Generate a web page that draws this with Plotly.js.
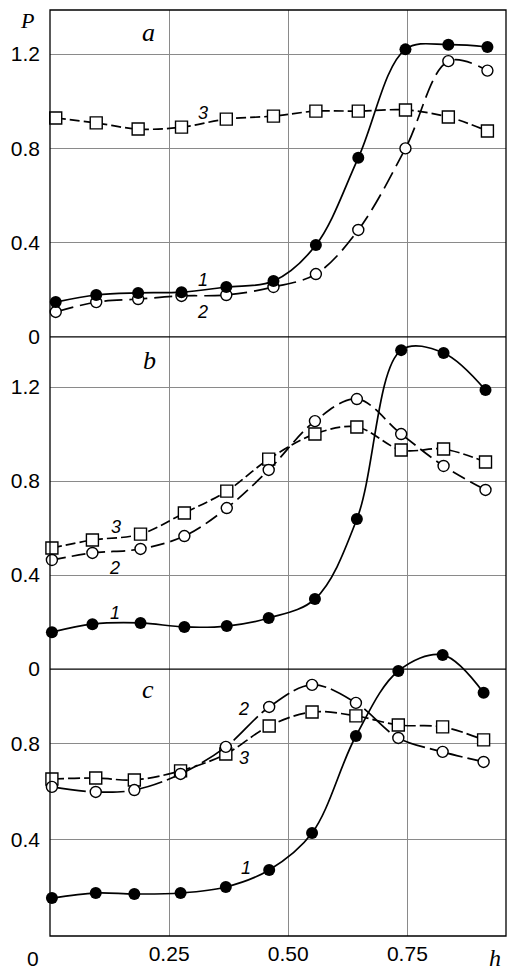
<!DOCTYPE html>
<html>
<head>
<meta charset="utf-8">
<script src="https://cdn.plot.ly/plotly-3.0.1.min.js"></script>
<style>html,body{margin:0;padding:0;background:#fff;}#chart{width:508px;height:972px;}</style>
</head>
<body>
<div id="chart"></div>
<script>
// ---- data ----
var hA = [0.012, 0.097, 0.185, 0.276, 0.370, 0.469, 0.558, 0.647, 0.746, 0.836, 0.918];
var a1 = [0.148, 0.178, 0.187, 0.190, 0.212, 0.237, 0.390, 0.760, 1.220, 1.240, 1.230];
var a2 = [0.106, 0.148, 0.161, 0.174, 0.178, 0.212, 0.267, 0.454, 0.800, 1.170, 1.130];
var a3 = [0.929, 0.908, 0.882, 0.890, 0.924, 0.937, 0.958, 0.958, 0.963, 0.933, 0.874];

var hB = [0.004, 0.089, 0.190, 0.282, 0.371, 0.459, 0.556, 0.644, 0.737, 0.826, 0.914];
var b1 = [0.157, 0.191, 0.196, 0.179, 0.183, 0.217, 0.298, 0.638, 1.357, 1.345, 1.187];
var b2 = [0.464, 0.494, 0.511, 0.566, 0.685, 0.847, 1.055, 1.149, 1.000, 0.864, 0.762];
var b3 = [0.515, 0.549, 0.574, 0.664, 0.757, 0.893, 1.000, 1.030, 0.932, 0.936, 0.881];

var hC = [0.004, 0.096, 0.177, 0.274, 0.369, 0.460, 0.550, 0.642, 0.731, 0.824, 0.910];
var c1 = [0.158, 0.179, 0.175, 0.179, 0.204, 0.275, 0.429, 0.833, 1.104, 1.171, 1.013];
var c2 = [0.621, 0.600, 0.608, 0.675, 0.788, 0.954, 1.046, 0.971, 0.825, 0.767, 0.725];
var c3 = [0.654, 0.658, 0.650, 0.688, 0.758, 0.875, 0.933, 0.917, 0.879, 0.871, 0.817];

var xTickVals = [0.25, 0.5, 0.75];
var xTickText = ['0.25', '0.50', '0.75'];
var yTicksAB = [0, 0.4, 0.8, 1.2];
var yTickTextAB = ['0', '0.4', '0.8', '1.2'];
var yTicksC = [0.4, 0.8];
var yTickTextC = ['0.4', '0.8'];

// ---- styles ----
var BLACK = '#000';
var LW = 1.7;
function filled(x, y, ya) {
  return {x: x, y: y, yaxis: ya, mode: 'lines+markers', cliponaxis: false,
    line: {color: BLACK, width: LW, shape: 'spline', smoothing: 1},
    marker: {symbol: 'circle', size: 12, color: BLACK, line: {color: BLACK, width: 0}}, showlegend: false, hoverinfo: 'skip'};
}
function openCirc(x, y, ya, dash) {
  return {x: x, y: y, yaxis: ya, mode: 'lines+markers', cliponaxis: false,
    line: {color: BLACK, width: LW, shape: 'spline', smoothing: 1, dash: dash},
    marker: {symbol: 'circle', size: 11, color: '#fff', line: {color: BLACK, width: 1.4}}, showlegend: false, hoverinfo: 'skip'};
}
function square(x, y, ya, dash) {
  return {x: x, y: y, yaxis: ya, mode: 'lines+markers', cliponaxis: false,
    line: {color: BLACK, width: LW, shape: 'spline', smoothing: 1, dash: dash},
    marker: {symbol: 'square', size: 12, color: '#fff', line: {color: BLACK, width: 1.4}}, showlegend: false, hoverinfo: 'skip'};
}

var traces = [
  square(hA, a3, 'y', '10px,4px'),
  openCirc(hA, a2, 'y', '18px,7px'),
  filled(hA, a1, 'y'),
  square(hB, b3, 'y2', '10px,4px'),
  openCirc(hB, b2, 'y2', '14px,6px'),
  filled(hB, b1, 'y2'),
  square(hC, c3, 'y3', '12px,4px'),
  openCirc(hC, c2, 'y3', '34px,5px'),
  filled(hC, c1, 'y3')
];

var tickFont = {family: 'Liberation Sans, Arial, sans-serif', size: 21, color: BLACK};
var GRID = '#8a8a8a';
function yax(domain, range, vals, text) {
  return {domain: domain, range: range, tickmode: 'array', tickvals: vals, ticktext: text,
    showgrid: true, gridcolor: GRID, gridwidth: 1, zeroline: false, showline: false,
    ticks: '', tickfont: tickFont, ticklabelstandoff: 9, anchor: 'x', fixedrange: true};
}

var numFont = {family: 'Liberation Sans, Arial, sans-serif', size: 18, color: BLACK};
var serifFont = {family: 'Liberation Serif, Times New Roman, serif', size: 26, color: BLACK};
function lab(text, x, y, ya, font) {
  return {text: text, x: x, y: y, xref: 'x', yref: ya, showarrow: false, font: font,
    xanchor: 'center', yanchor: 'middle'};
}

var layout = {
  width: 508, height: 972,
  margin: {l: 50, r: 2, t: 10, b: 36},
  paper_bgcolor: '#fff', plot_bgcolor: 'rgba(0,0,0,0)',
  showlegend: false,
  xaxis: {domain: [0, 1], range: [0, 0.957], tickmode: 'array', tickvals: xTickVals, ticktext: xTickText,
    showgrid: true, gridcolor: GRID, gridwidth: 1, zeroline: false, showline: false, ticks: '',
    tickfont: tickFont, ticklabelstandoff: 3, anchor: 'y3', fixedrange: true},
  yaxis: yax([0.6469, 1], [0, 1.387], yTicksAB, yTickTextAB),
  yaxis2: yax([0.2883, 0.6469], [0, 1.413], yTicksAB, yTickTextAB),
  yaxis3: yax([0, 0.3251], [0, 1.254], yTicksC, yTickTextC),
  shapes: [
    {type: 'rect', xref: 'paper', yref: 'paper', x0: 0, x1: 1, y0: 0, y1: 1, line: {color: BLACK, width: 1.3}},
    {type: 'line', xref: 'paper', yref: 'paper', x0: 0, x1: 1, y0: 0.6469, y1: 0.6469, line: {color: BLACK, width: 1.3}},
    {type: 'line', xref: 'paper', yref: 'paper', x0: 0, x1: 1, y0: 0.2883, y1: 0.2883, line: {color: BLACK, width: 1.3}}
  ],
  annotations: [
    lab('<i>a</i>', 0.206, 1.293, 'y', serifFont),
    lab('<i>b</i>', 0.208, 1.315, 'y2', serifFont),
    lab('<i>c</i>', 0.206, 1.025, 'y3', serifFont),
    lab('<i>3</i>', 0.321, 0.950, 'y', numFont),
    lab('<i>1</i>', 0.321, 0.242, 'y', numFont),
    lab('<i>2</i>', 0.321, 0.106, 'y', numFont),
    lab('<i>3</i>', 0.139, 0.604, 'y2', numFont),
    lab('<i>2</i>', 0.135, 0.430, 'y2', numFont),
    lab('<i>1</i>', 0.137, 0.238, 'y2', numFont),
    lab('<i>2</i>', 0.407, 0.946, 'y3', numFont),
    lab('<i>3</i>', 0.407, 0.742, 'y3', numFont),
    lab('<i>1</i>', 0.411, 0.283, 'y3', numFont),
    {text: '<i>P</i>', xref: 'paper', yref: 'paper', x: 0, y: 1, xshift: -23, yshift: -10,
      showarrow: false, xanchor: 'center', yanchor: 'middle',
      font: {family: 'Liberation Serif, Times New Roman, serif', size: 22, color: BLACK}},
    {text: '<i>h</i>', xref: 'paper', yref: 'paper', x: 1, y: 0, xshift: -11, yshift: -22,
      showarrow: false, xanchor: 'center', yanchor: 'middle',
      font: {family: 'Liberation Serif, Times New Roman, serif', size: 24, color: BLACK}},
    {text: '0', xref: 'x', yref: 'paper', x: 0, y: 0, xshift: -17, yshift: -22,
      showarrow: false, xanchor: 'center', yanchor: 'middle', font: tickFont}
  ]
};

Plotly.newPlot('chart', traces, layout, {staticPlot: true, displayModeBar: false});
</script>
</body>
</html>
